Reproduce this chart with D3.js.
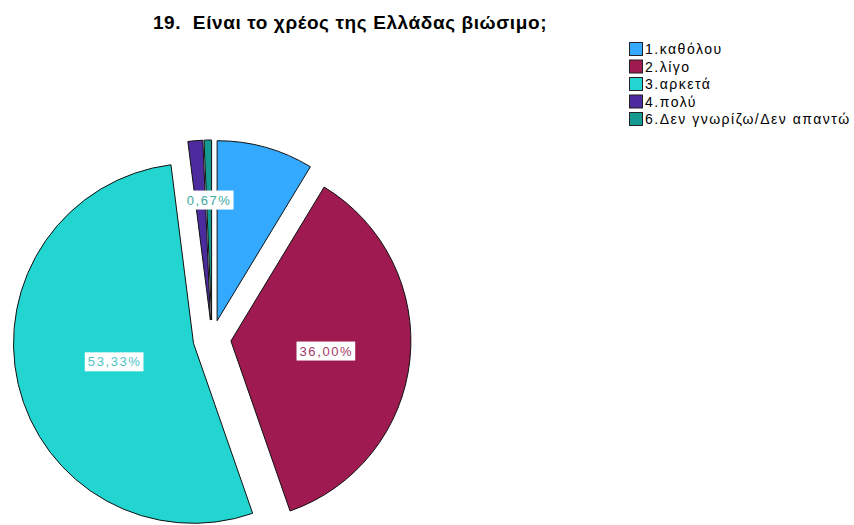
<!DOCTYPE html>
<html>
<head>
<meta charset="utf-8">
<script src="https://cdn.jsdelivr.net/npm/d3@7"></script>
<style>
  html, body { margin: 0; padding: 0; background: #fff; }
  svg { display: block; }
  text { font-family: "Liberation Sans", Arial, sans-serif; }
</style>
</head>
<body>
<svg id="chart" width="854" height="525"></svg>
<script>
const title = "19.  Είναι το χρέος της Ελλάδας βιώσιμο;";
const categories = ["1.καθόλου", "2.λίγο", "3.αρκετά", "4.πολύ", "6.Δεν γνωρίζω/Δεν απαντώ"];
const percents = [8.67, 36.00, 53.33, 1.33, 0.67];
const shownLabels = ["", "36,00%", "53,33%", "", "0,67%"];
const colors = ["#33aaff", "#9e1a50", "#22d5d0", "#4b2b9e", "#149a90"];
const labelColors = ["#33aaff", "#a23a68", "#4cc6c6", "#4b2b9e", "#3aaaa2"];

const svg = d3.select("#chart");

svg.append("text")
  .attr("x", 350).attr("y", 29)
  .attr("text-anchor", "middle")
  .attr("font-size", 19).attr("font-weight", "bold")
  .attr("letter-spacing", 0.6)
  .attr("fill", "#000")
  .style("white-space", "pre")
  .text(title);

const cx = 212, cy = 339, R = 180, explode = 19;
const pie = d3.pie().sort(null).value(d => d);
const arcs = pie(percents);
const arc = d3.arc().innerRadius(0).outerRadius(R);

const g = svg.append("g").attr("transform", `translate(${cx},${cy})`);
const slices = g.selectAll("g.slice").data(arcs).enter().append("g")
  .attr("class", "slice")
  .attr("transform", d => {
    const m = (d.startAngle + d.endAngle) / 2;
    return `translate(${explode * Math.sin(m)},${-explode * Math.cos(m)})`;
  });

slices.append("path")
  .attr("d", arc)
  .attr("fill", (d, i) => colors[i])
  .attr("stroke", "#111")
  .attr("stroke-width", 1)
  .attr("stroke-linejoin", "round");

slices.each(function(d, i) {
  if (!shownLabels[i]) return;
  const a = (d.endAngle - d.startAngle) / 2;
  const m = (d.startAngle + d.endAngle) / 2;
  const dist = Math.max((2 / 3) * R * Math.sin(a) / a, 0.45 * R);
  const x = dist * Math.sin(m), y = -dist * Math.cos(m);
  const sel = d3.select(this);
  const t = sel.append("text")
    .attr("x", x).attr("y", y)
    .attr("text-anchor", "middle")
    .attr("dominant-baseline", "central")
    .attr("font-size", 13)
    .attr("letter-spacing", 1.6)
    .attr("fill", labelColors[i])
    .text(shownLabels[i]);
  const bb = t.node().getBBox();
  sel.insert("rect", "text")
    .attr("x", bb.x - 3).attr("y", bb.y - 2)
    .attr("width", bb.width + 5).attr("height", bb.height + 4)
    .attr("fill", "#fff");
});

const legend = svg.append("g").attr("transform", "translate(629,42)");
const rows = legend.selectAll("g").data(categories).enter().append("g")
  .attr("transform", (d, i) => `translate(0,${i * 17.5})`);
rows.append("rect")
  .attr("x", 0.5).attr("y", 0.5).attr("width", 13).attr("height", 13)
  .attr("fill", (d, i) => colors[i]).attr("stroke", "#222").attr("stroke-width", 1);
rows.append("text")
  .attr("x", 16).attr("y", 12)
  .attr("font-size", 14)
  .attr("letter-spacing", 1.5)
  .attr("fill", "#000")
  .text(d => d);
</script>
</body>
</html>
